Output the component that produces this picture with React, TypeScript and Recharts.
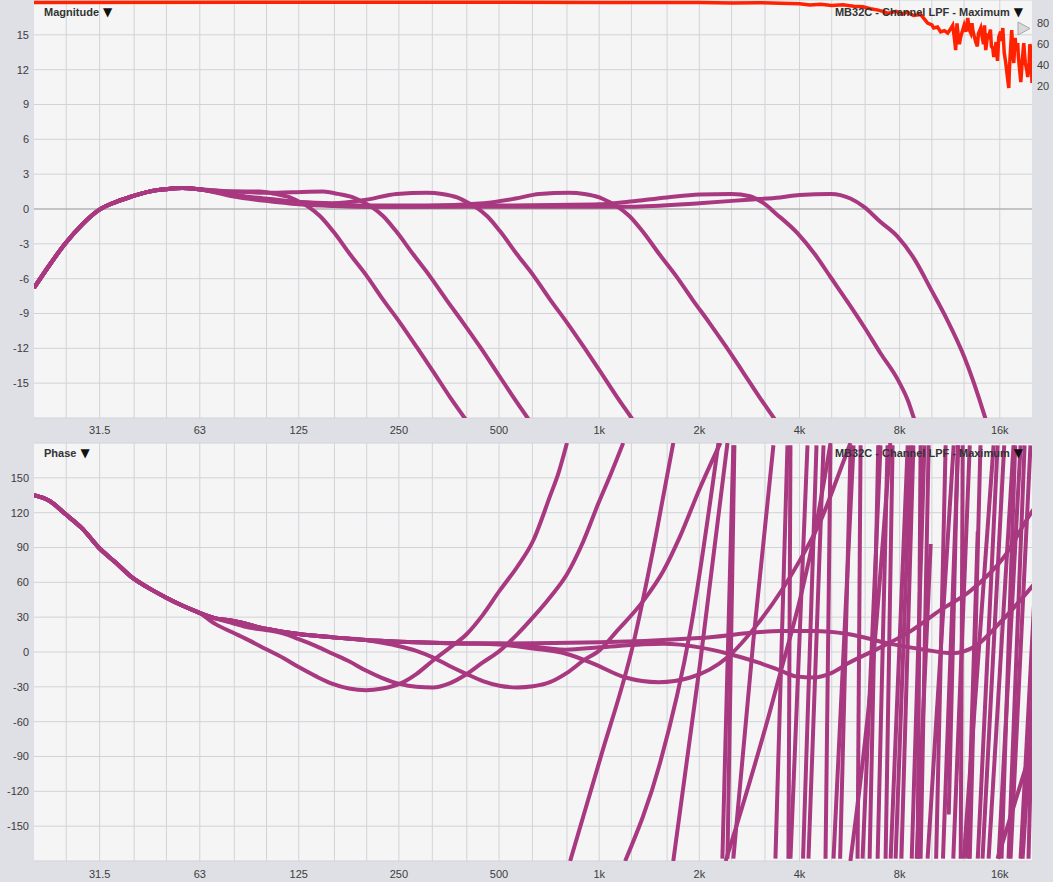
import React from 'react';
import { LineChart, Line, XAxis, YAxis, CartesianGrid, ReferenceLine } from 'recharts';

type Pt = [number, number];

// axis ticks
const freqTicks = [31.5, 63, 125, 250, 500, 1000, 2000, 4000, 8000, 16000];
const freqTickLabels = ['31.5', '63', '125', '250', '500', '1k', '2k', '4k', '8k', '16k'];
const gridFreqs = [25, 31.5, 40, 50, 63, 80, 100, 125, 160, 200, 250, 315, 400, 500, 630, 800, 1000, 1250, 1600, 2000, 2500, 3150, 4000, 5000, 6300, 8000, 10000, 12500, 16000];
const magTicks = [-15, -12, -9, -6, -3, 0, 3, 6, 9, 12, 15];
const phaseTicks = [-150, -120, -90, -60, -30, 0, 30, 60, 90, 120, 150];
const cohTicks = [20, 40, 60, 80];

// magnitude (dB), shared high-pass part then each low-pass
const magShared: Pt[] = [[20, -6.8], [22.3, -4.8], [24.8, -3.0], [28, -1.3], [31.3, -0.1], [35.2, 0.6], [39.5, 1.1], [44.3, 1.5], [49.8, 1.7], [55.8, 1.8], [62.6, 1.7]];
const magA: Pt[] = [[77.5, 1.5], [95.4, 1.5], [106, 1.3], [117.6, 1.0], [126, 0.6], [135, 0.1], [144.7, -0.6], [158.4, -1.9], [178.2, -3.9], [200.5, -5.8], [224, -7.8], [252, -9.8], [283, -11.9], [317, -14.0], [356, -16.2], [403, -18.4], [439, -20]];
const magB: Pt[] = [[78.9, 1.5], [99.4, 1.4], [120, 1.45], [148, 1.5], [164, 1.3], [182, 1.0], [195, 0.6], [209, 0.1], [224, -0.6], [245, -1.9], [276, -3.9], [310, -5.8], [347, -7.8], [390, -9.8], [439, -11.9], [491, -14.0], [552, -16.2], [623, -18.4], [679, -20]];
const magC: Pt[] = [[78.9, 1.2], [99.4, 0.9], [125, 0.6], [158, 0.5], [199, 0.8], [246, 1.3], [303, 1.4], [337, 1.3], [374, 1.0], [400, 0.6], [429, 0.1], [460, -0.6], [503, -1.9], [566, -3.9], [637, -5.8], [712, -7.8], [801, -9.8], [900, -11.9], [1008, -14.0], [1132, -16.2], [1279, -18.4], [1394, -20]];
const magD: Pt[] = [[78.9, 1.2], [99.4, 0.8], [125, 0.6], [158, 0.4], [199, 0.3], [300, 0.3], [450, 0.5], [560, 0.9], [660, 1.3], [812, 1.4], [902, 1.3], [1001, 1.0], [1072, 0.6], [1149, 0.1], [1232, -0.6], [1348, -1.9], [1517, -3.9], [1706, -5.8], [1907, -7.8], [2144, -9.8], [2412, -11.9], [2699, -14.0], [3032, -16.2], [3426, -18.4], [3733, -20]];
const magE: Pt[] = [[78.9, 1.2], [99.4, 0.8], [125, 0.5], [158, 0.3], [199, 0.2], [251, 0.2], [500, 0.3], [1000, 0.4], [1240, 0.65], [1600, 1.0], [2000, 1.25], [2500, 1.3], [2840, 1.1], [3120, 0.5], [3400, -0.4], [3950, -2.1], [4450, -3.9], [4970, -5.9], [5580, -8.0], [6240, -10.1], [7000, -12.4], [7900, -14.7], [8500, -16.6], [8780, -17.8], [9200, -19.5]];
const magF: Pt[] = [[78.9, 1.1], [99.4, 0.7], [125, 0.4], [158, 0.25], [199, 0.2], [251, 0.2], [500, 0.2], [1240, 0.2], [2000, 0.5], [2800, 0.8], [3500, 1.0], [4000, 1.2], [4970, 1.3], [5690, 0.9], [6240, 0.2], [7000, -1.1], [7900, -2.4], [8900, -4.4], [9930, -6.9], [11100, -9.5], [12500, -12.7], [14400, -17.8], [15000, -19.5]];

// coherence (right axis, %)
const coherence: Pt[] = [[20, 100], [500, 100.2], [1000, 100], [1500, 99.8], [2000, 99.9], [2500, 99.5], [3000, 99.7], [3500, 99.2], [4000, 98.8], [4300, 97.6], [4630, 98.2], [5000, 97.0], [5400, 97.8], [5820, 96.4], [6200, 95.8], [6540, 94.0], [6900, 92.6], [7200, 91.0], [7360, 89.5], [7800, 91.5], [8100, 89.0], [8460, 90.5], [8800, 87.5], [9250, 88.5], [9500, 84], [9710, 80.3], [10000, 78.5], [10130, 75.5], [10400, 76.5], [10630, 71.7], [10900, 73], [11160, 70.7], [11350, 74], [11550, 78], [11700, 65], [11790, 54.4], [11900, 80], [12000, 68], [12100, 60], [12210, 66.9], [12500, 78], [12650, 72], [12820, 85.1], [12950, 74], [13090, 70.7], [13200, 80], [13300, 72], [13550, 62.1], [13700, 58], [13800, 70], [14030, 75.5], [14150, 68], [14300, 60], [14400, 78], [14520, 54.4], [14700, 68], [14830, 66.9], [15000, 74], [15100, 58], [15250, 56], [15350, 47.8], [15600, 62], [15750, 44], [15890, 66.9], [16100, 72], [16200, 63], [16340, 75.5], [16500, 52], [16680, 42.0], [16850, 30], [17030, 18.1], [17100, 35], [17200, 50], [17380, 73.6], [17500, 55], [17630, 42.0], [17800, 66], [17900, 54], [18120, 61.1], [18200, 48], [18300, 40], [18510, 23.8], [18700, 45], [18890, 61.1], [19000, 50], [19100, 42], [19300, 35], [19420, 28.6], [19600, 40], [19700, 60], [19840, 56.4], [20000, 22.9]];

// phase (deg)
const phShared: Pt[] = [[20, 135], [22.3, 130], [24.8, 119], [28, 106], [31.3, 90], [35.2, 77], [39.5, 64], [44.3, 55], [49.8, 47], [55.8, 40], [62.6, 34]];
const phA: Pt[] = [[70.3, 24], [78.9, 17], [88.6, 10], [99.4, 2.6], [112, -5], [125, -13], [141, -21], [158, -27.5], [177, -31.5], [199, -33], [223, -31.5], [251, -27.5], [282, -19], [316, -7.5], [355, 3.5], [400, 15.5], [447, 32], [502, 52.8], [566, 73], [633, 95.8], [711, 134], [756, 155], [800, 180]];
const phB: Pt[] = [[70.3, 29], [78.9, 25], [88.6, 21], [99.4, 19], [112, 16], [125, 11], [141, 5], [158, -1.5], [177, -8], [199, -16], [223, -22.5], [251, -27.5], [282, -30], [316, -30.5], [355, -27], [400, -19], [447, -9], [502, 1], [566, 15], [633, 30], [711, 47], [800, 67], [895, 95], [993, 127.6], [1090, 155], [1181, 180]];
const phC: Pt[] = [[70.3, 29], [78.9, 27], [99.4, 20], [125, 15.5], [158, 12.6], [199, 10.3], [223, 8], [251, 5], [282, 1], [316, -4.6], [355, -12], [400, -19], [447, -25], [502, -29], [566, -30.5], [633, -29.5], [711, -26], [800, -18], [895, -7.5], [1007, 2], [1130, 18], [1357, 44], [1560, 70], [1753, 100], [2000, 140], [2313, 180]];
const phD: Pt[] = [[70.3, 29], [78.9, 27], [99.4, 20], [125, 15.5], [158, 12.6], [199, 10.3], [251, 8.9], [316, 8], [400, 7.4], [502, 6.5], [633, 3], [795, -1.5], [960, -10], [1200, -22], [1510, -26], [1880, -22], [2430, -4.6], [2990, 24], [4030, 80], [4630, 113], [5200, 150], [5690, 180]];
const phE: Pt[] = [[70.3, 29], [78.9, 27], [99.4, 20], [125, 15.5], [158, 12.6], [199, 10.3], [251, 8.9], [316, 8], [400, 7.4], [502, 7.4], [795, 2], [1000, 4], [1560, 7], [2000, 4], [2445, -1.5], [3000, -9], [3510, -16], [3900, -21], [4420, -22], [5000, -18], [5580, -10], [7010, 4], [8640, 18], [10600, 36], [13100, 53], [16500, 82], [19800, 119], [20500, 125]];
const phF: Pt[] = [[70.3, 29], [78.9, 27], [99.4, 20], [125, 15.5], [158, 12.6], [199, 10.3], [251, 8.9], [316, 8], [400, 7.4], [502, 7.4], [1007, 8.3], [2000, 12], [3510, 18], [4420, 18], [5580, 15.5], [7520, 7], [9500, 2], [11500, -1], [13500, 5], [16000, 25], [20500, 60]];

// phase wraps with visible bend
const wrapA2: Pt[] = [[818, -180], [1007, -92], [1266, 7], [1480, 100], [1670, 180]];
const wrapB2: Pt[] = [[1197, -180], [1526, -95], [1878, 18], [2283, 180]];
const wrapA3: Pt[] = [[1670, -180], [2010, -10], [2430, 180]];
const wrapC2: Pt[] = [[2400, -180], [3340, -40], [4530, 115], [4959, 180]];
const wrapX1: Pt[] = [[2531, -178], [2907, 10], [3340, 178]];
const wrapD2: Pt[] = [[5690, -180], [6600, -20], [7500, 180]];
const wrapPartial: Pt[][] = [
  [[11240, -140], [11960, 178]],
  [[9000, -178], [9920, 93]],
  [[12800, -178], [13740, 104]],
  [[15760, -178], [20000, -82]],
];

// steep wraps: [bottom freq, top freq]
const steepWraps: Pt[] = [
  [2346, 2531], [2430, 2549], [3387, 3681], [3706, 3758], [3758, 4228], [4100, 4500], [4257, 4724], [4790, 4959],
  [5063, 5816], [5300, 5700], [5979, 6105], [6190, 7010], [6500, 6900], [6870, 7360], [7260, 7620], [7520, 8460],
  [7780, 8640], [8100, 8800], [8700, 9500], [9060, 9250], [9250, 9780], [9710, 11630], [10300, 11000], [10800, 12000],
  [11600, 13000], [12210, 12380], [12470, 15330], [13000, 14000], [13740, 15760], [14200, 16500], [14810, 17600],
  [15870, 18480], [16200, 17800], [17000, 19000], [17240, 19790], [18480, 21500], [18740, 22500], [19520, 21000],
];

const MAGENTA = '#a8387f';
const RED = '#ff2200';
const FONT = '"Liberation Sans", Arial, Helvetica, sans-serif';

const toObj = (arr: Pt[]) => arr.map(([f, v]) => ({ f, v }));

const magSeries = [magA, magB, magC, magD, magE, magF].map((s) => toObj([...magShared, ...s]));
const phSeries = [phA, phB, phC, phD, phE, phF].map((s) => toObj([...phShared, ...s]));
const phWraps = [wrapA2, wrapB2, wrapA3, wrapC2, wrapX1, wrapD2, ...wrapPartial, ...steepWraps.map(([b, t]) => [[b, -178], [t, 178]] as Pt[])].map(toObj);

const fmtFreq = (v: number) => {
  const i = freqTicks.indexOf(v);
  return i >= 0 ? freqTickLabels[i] : String(v);
};

const tickStyle = { fontSize: 11, fill: '#3c3c3c', fontFamily: FONT };

const xAxisProps = {
  type: 'number' as const,
  dataKey: 'f',
  scale: 'log' as const,
  domain: [20, 20000],
  allowDataOverflow: true,
  ticks: freqTicks,
  tickFormatter: fmtFreq,
  tickLine: false,
  axisLine: false,
  tick: tickStyle,
  interval: 0 as const,
};

const Title: React.FC<{ text: string; top: number; left?: number; right?: number }> = ({ text, top, left, right }) => (
  <div
    style={{
      position: 'absolute',
      top,
      left,
      right,
      fontFamily: FONT,
      fontSize: 11,
      fontWeight: 'bold',
      color: '#333',
      whiteSpace: 'nowrap',
      lineHeight: '13px',
    }}
  >
    {text} <span style={{ fontSize: 12, fontFamily: '"DejaVu Sans", sans-serif', color: '#111', marginLeft: 1 }}>▼</span>
  </div>
);

export default function App() {
  return (
    <div style={{ position: 'absolute', left: 0, top: 0, width: 1053, height: 882, background: '#dfe0e5', overflow: 'hidden' }}>
      <div style={{ position: 'absolute', left: 0, top: 0 }}>
        <LineChart width={1053} height={440} margin={{ top: 0, right: 0, bottom: 0, left: 0 }}>
          <CartesianGrid fill="#f5f5f6" stroke="#d2d3d7" verticalValues={gridFreqs} />
          <XAxis {...xAxisProps} height={22} tickMargin={2} />
          <YAxis yAxisId={0} domain={[-18, 18]} ticks={magTicks} allowDataOverflow width={34} tickLine={false} axisLine={false} tick={tickStyle} tickSize={5} tickMargin={0} interval={0} />
          <YAxis yAxisId="coh" orientation="right" domain={[-297.7, 102.3]} ticks={cohTicks} allowDataOverflow width={21} tickLine={false} axisLine={false} tick={tickStyle} tickSize={5} tickMargin={0} interval={0} />
          <ReferenceLine y={0} stroke="#a3a3a6" strokeWidth={1} />
          <Line yAxisId="coh" data={toObj(coherence)} dataKey="v" stroke={RED} strokeWidth={3.5} dot={false} activeDot={false} isAnimationActive={false} type="linear" strokeLinejoin="miter" />
          {magSeries.map((d, i) => (
            <Line key={'m' + i} data={d} dataKey="v" stroke={MAGENTA} strokeWidth={4} dot={false} activeDot={false} isAnimationActive={false} type="monotone" />
          ))}
        </LineChart>
      </div>
      <div style={{ position: 'absolute', left: 0, top: 440 }}>
        <LineChart width={1053} height={442} margin={{ top: 3, right: 21, bottom: 0, left: 0 }}>
          <CartesianGrid fill="#f5f5f6" stroke="#d2d3d7" verticalValues={gridFreqs} />
          <XAxis {...xAxisProps} height={21} tickMargin={3} />
          <YAxis domain={[-180, 180]} ticks={phaseTicks} allowDataOverflow width={34} tickLine={false} axisLine={false} tick={tickStyle} tickSize={5} tickMargin={0} interval={0} />
          {phSeries.map((d, i) => (
            <Line key={'p' + i} data={d} dataKey="v" stroke={MAGENTA} strokeWidth={4} dot={false} activeDot={false} isAnimationActive={false} type="monotone" />
          ))}
          {phWraps.map((d, i) => (
            <Line key={'w' + i} data={d} dataKey="v" stroke={MAGENTA} strokeWidth={4} dot={false} activeDot={false} isAnimationActive={false} type="monotone" />
          ))}
        </LineChart>
      </div>
      <Title text="Magnitude" top={6} left={44} />
      <Title text="MB32C - Channel LPF - Maximum" top={6} right={30} />
      <Title text="Phase" top={447} left={44} />
      <Title text="MB32C - Channel LPF - Maximum" top={447} right={30} />
      <svg style={{ position: 'absolute', left: 1016, top: 21 }} width={16} height={16}>
        <polygon points="2,1 14,7.5 2,14" fill="#d9d9db" stroke="#a7a7aa" strokeWidth={1} strokeLinejoin="round" />
      </svg>
    </div>
  );
}
